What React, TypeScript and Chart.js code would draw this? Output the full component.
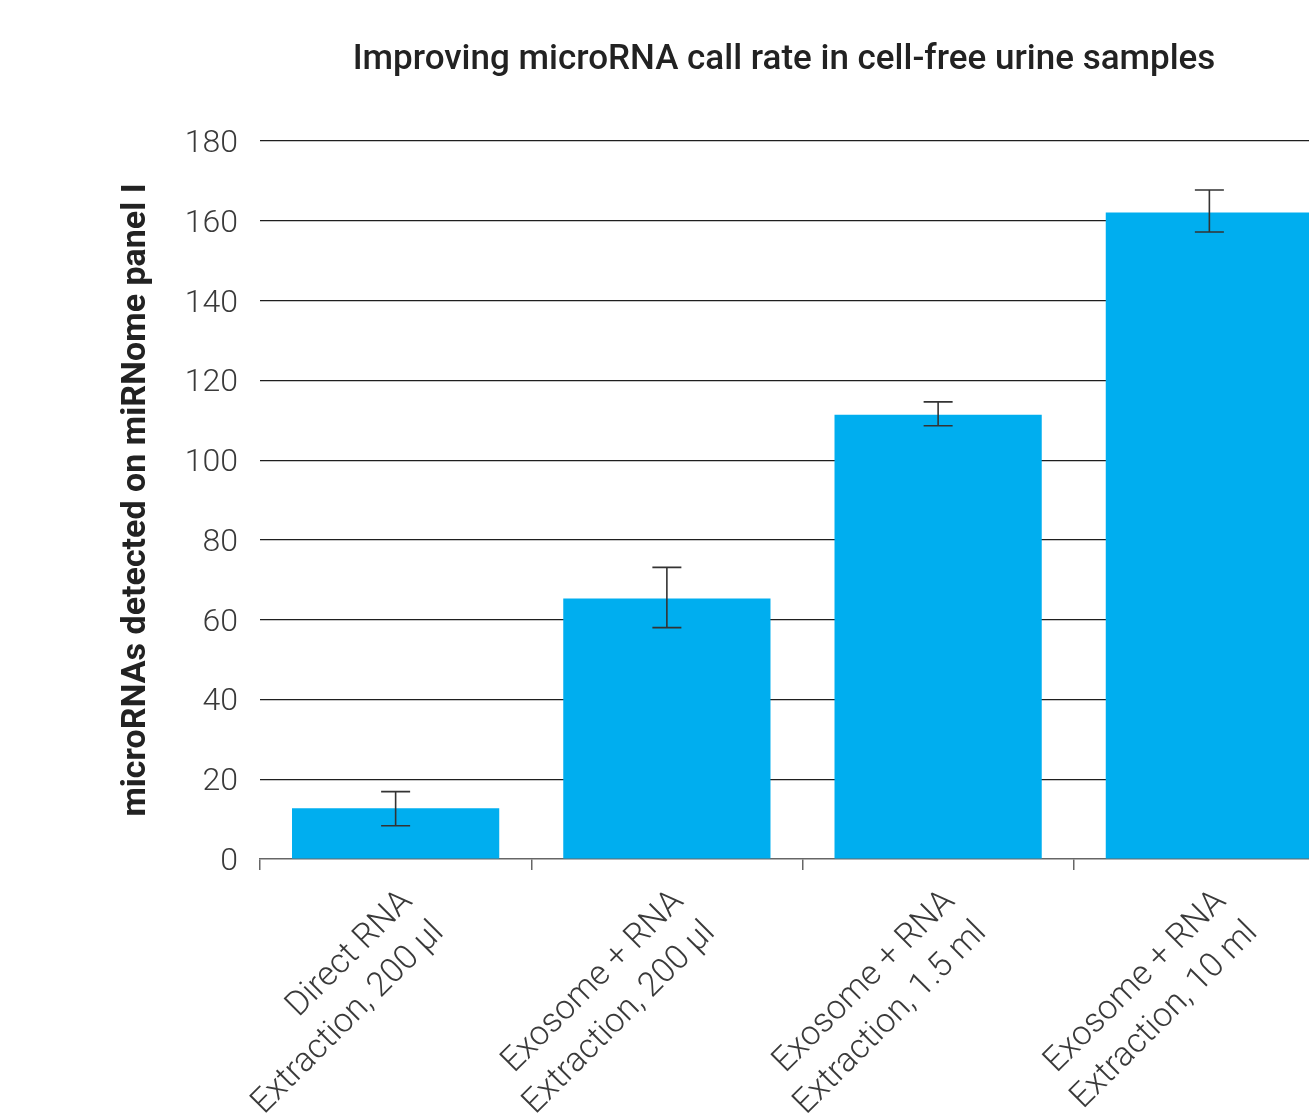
import React, { useEffect, useRef } from "react";
import { Chart, registerables } from "chart.js";

Chart.register(...registerables);

const categories: string[][] = [
  ["Direct RNA", "Extraction, 200 µl"],
  ["Exosome + RNA", "Extraction, 200 µl"],
  ["Exosome + RNA", "Extraction, 1.5 ml"],
  ["Exosome + RNA", "Extraction, 10 ml"],
];
const values: number[] = [12.7, 65.3, 111.4, 162.1];
const errorUpper: number[] = [16.9, 73.1, 114.6, 167.7];
const errorLower: number[] = [8.35, 58.0, 108.6, 157.2];
const yTicks: number[] = [0, 20, 40, 60, 80, 100, 120, 140, 160, 180];
const titleText = "Improving microRNA call rate in cell-free urine samples";
const yTitle = "microRNAs detected on miRNome panel I";

const errorBarPlugin = {
  id: "errorBars",
  afterDatasetsDraw(chart: any) {
    const meta = chart.getDatasetMeta(0);
    const y = chart.scales.y;
    const ctx = chart.ctx;
    ctx.save();
    ctx.strokeStyle = "#333333";
    ctx.lineWidth = 1.6;
    meta.data.forEach((bar: any, i: number) => {
      const x = bar.x;
      const yt = y.getPixelForValue(errorUpper[i]);
      const yb = y.getPixelForValue(errorLower[i]);
      const cap = 14.5;
      ctx.beginPath();
      ctx.moveTo(x, yt);
      ctx.lineTo(x, yb);
      ctx.moveTo(x - cap, yt);
      ctx.lineTo(x + cap, yt);
      ctx.moveTo(x - cap, yb);
      ctx.lineTo(x + cap, yb);
      ctx.stroke();
    });
    ctx.restore();
  },
};

export default function App() {
  const ref = useRef<HTMLCanvasElement | null>(null);
  useEffect(() => {
    if (!ref.current) return;
    const chart = new Chart(ref.current, {
      type: "bar",
      data: {
        labels: categories,
        datasets: [
          {
            data: values,
            backgroundColor: "#00AEEF",
            borderWidth: 0,
            categoryPercentage: 1,
            barPercentage: 0.764,
          },
        ],
      },
      options: {
        animation: false,
        responsive: false,
        layout: { padding: { top: 141, right: 0, left: 0, bottom: 0 } },
        plugins: {
          legend: { display: false },
          tooltip: { enabled: false },
          title: { display: false },
        },
        scales: {
          x: {
            grid: {
              display: true,
              drawOnChartArea: false,
              drawTicks: true,
              tickLength: 11,
              color: "#666666",
              lineWidth: 1.5,
            },
            border: { display: true, color: "#666666", width: 1.5 },
            ticks: {
              maxRotation: 45,
              minRotation: 45,
              autoSkip: false,
              padding: 11,
              labelOffset: 12,
              color: "#3a3a3a",
              font: { family: "Roboto", weight: "300", size: 34, lineHeight: 1.3 },
            },
            afterFit(scale: any) {
              scale.height = 260;
            },
          },
          y: {
            min: 0,
            max: 180,
            afterBuildTicks(scale: any) {
              scale.ticks = yTicks.map((v) => ({ value: v }));
            },
            grid: {
              drawTicks: false,
              color: (c: any) => (c.tick && c.tick.value === 0 ? "rgba(0,0,0,0)" : "#1f1f1f"),
              lineWidth: 1.2,
            },
            border: { display: false },
            ticks: {
              padding: 22,
              labelOffset: 3,
              color: "#3a3a3a",
              font: { family: "Roboto", weight: "300", size: 32 },
            },
            title: {
              display: true,
              text: yTitle,
              color: "#222222",
              font: { family: "Roboto", weight: "bold", size: 34 },
              padding: { top: 116, bottom: 0 },
            },
            afterFit(scale: any) {
              scale.width = 260;
            },
          },
        },
      },
      plugins: [errorBarPlugin],
    });
    return () => chart.destroy();
  }, []);

  return (
    <div
      style={{
        position: "absolute",
        left: 0,
        top: 0,
        width: 1309,
        height: 1119,
        overflow: "hidden",
        background: "#ffffff",
      }}
    >
      <div
        style={{
          position: "absolute",
          left: 0,
          top: 37,
          width: 1568,
          textAlign: "center",
          fontFamily: "Roboto",
          fontWeight: 500,
          fontSize: 35,
          lineHeight: "42px",
          color: "#222222",
          whiteSpace: "nowrap",
          zIndex: 2,
        }}
      >
        {titleText}
      </div>
      <canvas
        ref={ref}
        width={1345}
        height={1119}
        style={{ position: "absolute", left: 0, top: 0, width: 1345, height: 1119 }}
      />
    </div>
  );
}
